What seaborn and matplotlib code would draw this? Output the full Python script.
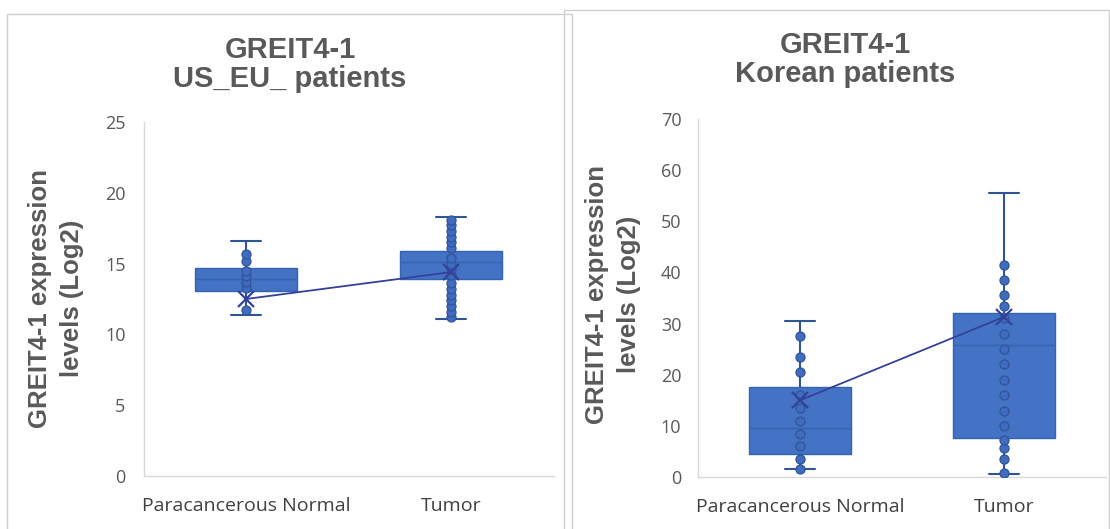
import matplotlib
matplotlib.use("Agg")
import matplotlib.pyplot as plt
from matplotlib.patches import Rectangle
import seaborn as sns
import pandas as pd

# ---------------- data ----------------
categories = ["Paracancerous Normal", "Tumor"]

# US_EU panel (box statistics)
us_q1 = [13.1, 13.9]
us_median = [13.9, 15.1]
us_q3 = [14.7, 15.9]
us_whislo = [11.4, 11.1]
us_whishi = [16.6, 18.3]
us_mean = [12.5, 14.4]
us_normal_pts = [11.7, 13.3, 13.7, 14.1, 14.5, 15.2, 15.7]
us_tumor_pts = [11.2, 11.6, 12.0, 12.4, 12.8, 13.2, 13.6, 14.2, 14.6, 15.0, 15.4,
                16.1, 16.5, 16.9, 17.3, 17.7, 18.1]

# Korean panel (box statistics)
kr_q1 = [4.5, 7.6]
kr_median = [9.6, 25.8]
kr_q3 = [17.6, 32.1]
kr_whislo = [1.5, 0.5]
kr_whishi = [30.5, 55.5]
kr_mean = [15.0, 31.3]
kr_normal_pts = [1.5, 3.5, 6.0, 8.5, 11.0, 13.5, 16.0, 20.5, 23.5, 27.6]
kr_tumor_pts = [0.8, 3.5, 5.7, 7.2, 10.0, 13.0, 16.0, 19.0, 22.0, 25.0, 28.0, 31.0,
                33.4, 35.6, 38.5, 41.5]

titles = [("GREIT4-1", "US_EU_ patients"), ("GREIT4-1", "Korean patients")]
ylabel = "GREIT4-1 expression\nlevels (Log2)"
us_yticks = [0, 5, 10, 15, 20, 25]
kr_yticks = [0, 10, 20, 30, 40, 50, 60, 70]

# ---------------- style ----------------
sns.set_theme(style="white")
W, H = 1110, 529
BLUE = "#4472C4"
DOT = "#3F6BC0"
EDGE = "#3563B3"
WHISK = "#2F5597"
MEANC = "#34419A"
GRAY = "#595959"
SPINE = "#D9D9D9"

fig = plt.figure(figsize=(W / 100, H / 100), dpi=100)
fig.patch.set_facecolor("white")

# chart frames
fig.add_artist(Rectangle((7 / W, -0.01), (572 - 7) / W, (H - 14) / H + 0.01,
                         transform=fig.transFigure, fill=False,
                         edgecolor="#CFCFCF", lw=1))
fig.add_artist(Rectangle((564 / W, -0.01), (1110 - 564) / W - 0.0005, (H - 10) / H + 0.01,
                         transform=fig.transFigure, facecolor="white",
                         edgecolor="#CFCFCF", lw=1, zorder=0))


def px_axes(x0, x1, ytop, ybot):
    return fig.add_axes([x0 / W, (H - ybot) / H, (x1 - x0) / W, (ybot - ytop) / H])


ax1 = px_axes(143.5, 553.5, 122, 476)
ax2 = px_axes(698, 1106, 119, 477)


def draw_panel(ax, q1, med, q3, lo, hi, mean, pts_n, pts_t, yticks, ypad):
    stats = []
    for i in range(len(categories)):
        stats.append(dict(q1=q1[i], med=med[i], q3=q3[i], whislo=lo[i],
                          whishi=hi[i], mean=mean[i], fliers=[]))
    ax.bxp(stats, positions=[0, 1], widths=0.5, capwidths=0.15,
           patch_artist=True, showfliers=False, showmeans=False,
           manage_ticks=False,
           boxprops=dict(facecolor=BLUE, edgecolor=EDGE, linewidth=1, zorder=2),
           medianprops=dict(color=EDGE, linewidth=1, zorder=2.1),
           whiskerprops=dict(color=WHISK, linewidth=1.5, zorder=1.5),
           capprops=dict(color=WHISK, linewidth=1.5, zorder=1.5))

    df = pd.DataFrame({
        "group": [categories[0]] * len(pts_n) + [categories[1]] * len(pts_t),
        "value": list(pts_n) + list(pts_t),
    })
    sns.stripplot(data=df, x="group", y="value", order=categories, jitter=False,
                  color=DOT, edgecolor=WHISK, linewidth=0.9, size=6.5,
                  ax=ax, zorder=3)

    mdf = pd.DataFrame({"pos": [0, 1], "mean": mean})
    sns.lineplot(data=mdf, x="pos", y="mean", ax=ax, color=MEANC, lw=1.3,
                 marker="x", markersize=11, markeredgewidth=1.6,
                 markeredgecolor=MEANC, zorder=4)

    ax.set_xlim(-0.5, 1.5)
    ax.set_ylim(yticks[0], yticks[-1])
    ax.set_yticks(yticks)
    ax.set_xticks([0, 1])
    ax.set_xticklabels(categories)
    ax.set_xlabel("")
    ax.set_ylabel("")
    for s in ["top", "right"]:
        ax.spines[s].set_visible(False)
    for s in ["left", "bottom"]:
        ax.spines[s].set_color(SPINE)
        ax.spines[s].set_linewidth(1)
    ax.tick_params(axis="y", length=0, pad=ypad, labelsize=13, labelcolor=GRAY)
    ax.tick_params(axis="x", length=0, pad=15, labelsize=14, labelcolor="#404040")
    for lab in ax.get_xticklabels() + ax.get_yticklabels():
        lab.set_family("Open Sans")
    ax.set_facecolor("white")
    ax.grid(False)


draw_panel(ax1, us_q1, us_median, us_q3, us_whislo, us_whishi, us_mean,
           us_normal_pts, us_tumor_pts, us_yticks, 13)
draw_panel(ax2, kr_q1, kr_median, kr_q3, kr_whislo, kr_whishi, kr_mean,
           kr_normal_pts, kr_tumor_pts, kr_yticks, 12)

# titles
tkw = dict(ha="center", va="baseline", fontsize=21, fontweight="bold",
           color=GRAY, family="Liberation Sans")
fig.text(290 / W, 1 - 58 / H, titles[0][0], **tkw)
fig.text(290 / W, 1 - 87 / H, titles[0][1], **tkw)
fig.text(845 / W, 1 - 53 / H, titles[1][0], **tkw)
fig.text(845 / W, 1 - 82 / H, titles[1][1], **tkw)

# y labels
lkw = dict(ha="center", va="center", rotation=90, fontsize=18.5,
           fontweight="bold", color=GRAY, family="Liberation Sans",
           multialignment="center", linespacing=1.4)
fig.text(56 / W, 1 - 298 / H, ylabel, **lkw)
fig.text(613 / W, 1 - 294 / H, ylabel, **lkw)

fig.savefig("out.png", dpi=100, facecolor="white")
